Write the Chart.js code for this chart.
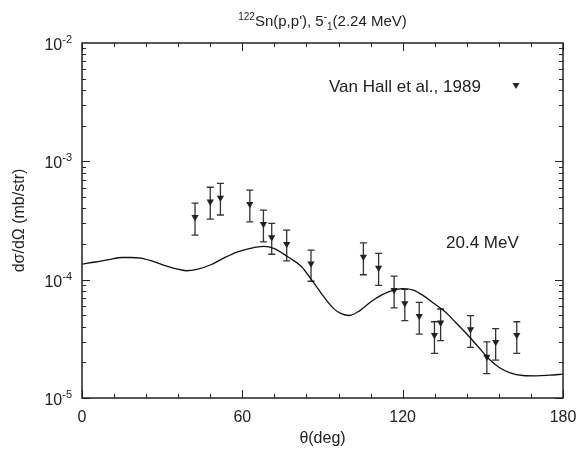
<!doctype html>
<html>

<head>
    <title>122Sn(p,p')</title>
    <script src="https://cdn.jsdelivr.net/npm/chart.js"></script>
    <style>
        body { margin: 0; background: #fff; }
    </style>
</head>

<body>
    <canvas id="grafico" width="580" height="451"></canvas>

    <script>
        // experimental points (Van Hall et al., 1989)
        var expTheta = [42.3, 48.0, 51.8, 62.8, 67.9, 71.0, 76.6, 85.7, 105.3, 111.0, 116.8, 120.8, 126.2, 131.9, 134.2, 145.4, 151.5, 154.8, 162.7];
        var expValue = [3.38e-4, 4.56e-4, 4.92e-4, 4.36e-4, 2.95e-4, 2.28e-4, 2.00e-4, 1.37e-4, 1.56e-4, 1.26e-4, 8.17e-5, 6.31e-5, 4.92e-5, 3.40e-5, 4.33e-5, 3.80e-5, 2.23e-5, 2.97e-5, 3.40e-5];
        var expHigh = [4.44e-4, 6.04e-4, 6.52e-4, 5.71e-4, 3.87e-4, 2.99e-4, 2.62e-4, 1.78e-4, 2.05e-4, 1.67e-4, 1.07e-4, 8.28e-5, 6.43e-5, 4.41e-5, 5.65e-5, 4.96e-5, 2.98e-5, 3.85e-5, 4.41e-5];
        var expLow = [2.38e-4, 3.25e-4, 3.52e-4, 3.08e-4, 2.09e-4, 1.64e-4, 1.44e-4, 9.70e-5, 1.10e-4, 8.95e-5, 5.78e-5, 4.50e-5, 3.47e-5, 2.38e-5, 3.05e-5, 2.68e-5, 1.61e-5, 2.09e-5, 2.38e-5];

        // calculated curve
        var calcTheta = [0, 5, 10, 15, 18, 22, 26, 30, 35, 39, 43, 48, 53, 58, 63, 68, 72, 77, 82, 86, 90, 94, 97, 100, 104, 108, 112, 116, 120, 124, 128, 132, 136, 140, 144, 148, 152, 156, 160, 165, 170, 175, 180];
        var calcValue = [1.355e-4, 1.41e-4, 1.48e-4, 1.54e-4, 1.54e-4, 1.52e-4, 1.44e-4, 1.34e-4, 1.24e-4, 1.19e-4, 1.22e-4, 1.33e-4, 1.52e-4, 1.71e-4, 1.84e-4, 1.91e-4, 1.83e-4, 1.56e-4, 1.30e-4, 9.93e-5, 7.41e-5, 5.75e-5, 5.16e-5, 4.98e-5, 5.48e-5, 6.47e-5, 7.41e-5, 8.09e-5, 8.41e-5, 8.17e-5, 7.26e-5, 6.22e-5, 5.32e-5, 4.30e-5, 3.47e-5, 2.75e-5, 2.17e-5, 1.82e-5, 1.64e-5, 1.55e-5, 1.54e-5, 1.56e-5, 1.59e-5];

        // axes
        var xTicks = [0, 60, 120, 180];
        var xMinorStep = 12;
        var yExponents = [-5, -4, -3, -2];

        var fonte = '"Liberation Sans", Arial, sans-serif';
        var corTexto = '#222';

        function texto(ctx, partes, x, y, align) {
            // partes: [texto, tamanho, deslocamento vertical]
            var largura = 0;
            partes.forEach(function (p) {
                ctx.font = p[1] + 'px ' + fonte;
                largura += ctx.measureText(p[0]).width;
            });
            var xi = align == 'right' ? x - largura : (align == 'center' ? x - largura / 2 : x);
            ctx.textAlign = 'left';
            ctx.textBaseline = 'alphabetic';
            partes.forEach(function (p) {
                ctx.font = p[1] + 'px ' + fonte;
                ctx.fillText(p[0], xi, y + p[2]);
                xi += ctx.measureText(p[0]).width;
            });
        }

        var moldura = {
            id: 'moldura',
            beforeDatasetsDraw: function (chart) {
                var ctx = chart.ctx, sx = chart.scales.x, sy = chart.scales.y;
                ctx.save();
                ctx.strokeStyle = '#333';
                ctx.lineWidth = 1.3;
                expTheta.forEach(function (t, i) {
                    var px = sx.getPixelForValue(t);
                    var y1 = sy.getPixelForValue(expHigh[i]);
                    var y2 = sy.getPixelForValue(expLow[i]);
                    ctx.beginPath();
                    ctx.moveTo(px, y1); ctx.lineTo(px, y2);
                    ctx.moveTo(px - 3.5, y1); ctx.lineTo(px + 3.5, y1);
                    ctx.moveTo(px - 3.5, y2); ctx.lineTo(px + 3.5, y2);
                    ctx.stroke();
                });
                ctx.restore();
            },
            afterDraw: function (chart) {
                var ctx = chart.ctx, a = chart.chartArea, sx = chart.scales.x, sy = chart.scales.y;
                ctx.save();
                ctx.strokeStyle = '#222';
                ctx.lineWidth = 1.5;
                ctx.strokeRect(a.left, a.top, a.right - a.left, a.bottom - a.top);

                ctx.lineWidth = 1;
                ctx.beginPath();
                // x ticks, pointing inwards, top and bottom
                for (var v = 0; v <= 180; v += xMinorStep) {
                    var px = Math.round(sx.getPixelForValue(v)) + 0.5;
                    var len = xTicks.indexOf(v) >= 0 ? 8 : 4;
                    ctx.moveTo(px, a.bottom); ctx.lineTo(px, a.bottom - len);
                    ctx.moveTo(px, a.top); ctx.lineTo(px, a.top + len);
                }
                // y ticks (log), left and right
                for (var e = -5; e < -2; e++) {
                    for (var m = 1; m <= 9; m++) {
                        var py = Math.round(sy.getPixelForValue(m * Math.pow(10, e))) + 0.5;
                        var l = m == 1 ? 8 : 4;
                        ctx.moveTo(a.left, py); ctx.lineTo(a.left + l, py);
                        ctx.moveTo(a.right, py); ctx.lineTo(a.right - l, py);
                    }
                }
                ctx.stroke();

                ctx.fillStyle = corTexto;
                // x tick labels
                xTicks.forEach(function (v) {
                    texto(ctx, [[String(v), 16, 0]], sx.getPixelForValue(v), a.bottom + 24, 'center');
                });
                // y tick labels 10^n
                yExponents.forEach(function (e) {
                    var py = sy.getPixelForValue(Math.pow(10, e));
                    texto(ctx, [['10', 16, 0], [String(e), 11, -7]], a.left - 10, py + 7, 'right');
                });

                // title
                texto(ctx, [['122', 10, -6], ["Sn(p,p'), 5", 15, 0], ['-', 10, -6], ['1', 10, 4], ['(2.24 MeV)', 15, 0]], (a.left + a.right) / 2, 26, 'center');

                // axis titles
                texto(ctx, [['\u03b8(deg)', 16, 0]], (a.left + a.right) / 2, 443, 'center');
                ctx.save();
                ctx.translate(24, (a.top + a.bottom) / 2);
                ctx.rotate(-Math.PI / 2);
                texto(ctx, [['d\u03c3/d\u03a9 (mb/str)', 16, 0]], 0, 0, 'center');
                ctx.restore();

                // legend
                texto(ctx, [['Van Hall et al., 1989', 17, 0]], 329, 92, 'left');
                ctx.beginPath();
                ctx.moveTo(512.5, 83); ctx.lineTo(519.5, 83); ctx.lineTo(516, 89);
                ctx.closePath();
                ctx.fill();

                // energy label
                texto(ctx, [['20.4 MeV', 17, 0]], 446, 248, 'left');
                ctx.restore();
            }
        };

        var grafico = new Chart(document.getElementById('grafico').getContext('2d'), {
            type: 'scatter',
            data: {
                datasets: [{
                    label: 'calc',
                    data: calcTheta.map(function (t, i) { return { x: t, y: calcValue[i] }; }),
                    showLine: true,
                    borderColor: '#111',
                    borderWidth: 1.3,
                    pointRadius: 0,
                    cubicInterpolationMode: 'monotone',
                    fill: false
                }, {
                    label: 'Van Hall et al., 1989',
                    data: expTheta.map(function (t, i) { return { x: t, y: expValue[i] }; }),
                    pointStyle: 'triangle',
                    rotation: 180,
                    pointRadius: 4.2,
                    backgroundColor: '#222',
                    borderColor: '#222',
                    borderWidth: 0
                }]
            },
            options: {
                responsive: false,
                animation: false,
                devicePixelRatio: 1,
                layout: { padding: { left: 82, right: 17, top: 43, bottom: 53 } },
                plugins: {
                    legend: { display: false },
                    tooltip: { enabled: false }
                },
                scales: {
                    x: { type: 'linear', min: 0, max: 180, display: false },
                    y: { type: 'logarithmic', min: 1e-5, max: 1e-2, display: false }
                }
            },
            plugins: [moldura]
        });
    </script>
</body>

</html>
